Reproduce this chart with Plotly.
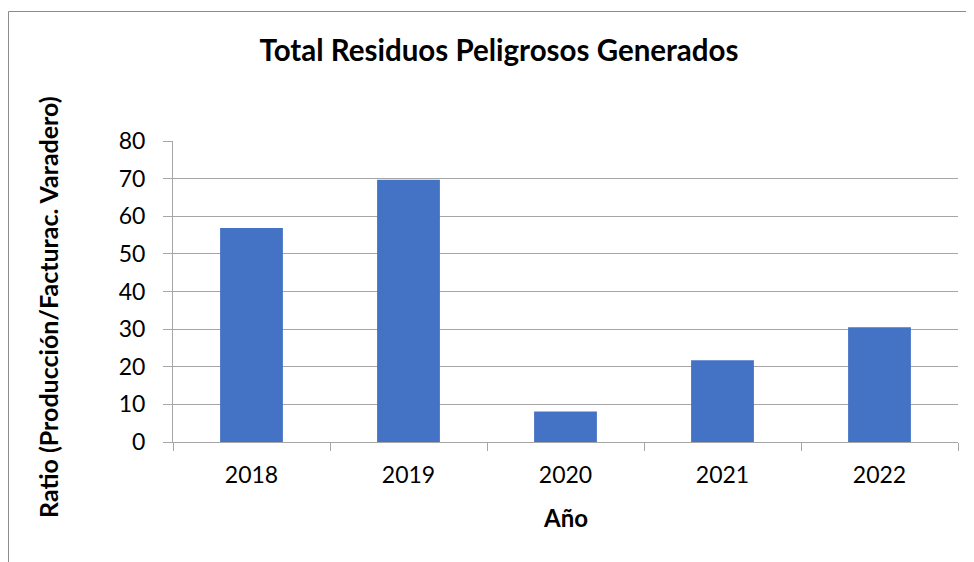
import plotly.graph_objects as go

years = ["2018", "2019", "2020", "2021", "2022"]
values = [56.9, 69.7, 8.1, 21.7, 30.5]
y_ticks = [0, 10, 20, 30, 40, 50, 60, 70, 80]

title_text = "Total Residuos Peligrosos Generados"
x_title = "Año"
y_title = "Ratio (Producción/Facturac. Varadero)"

# page body adds an 8px margin; figure coordinates below account for it
OFF = 8
W, H = 974 - OFF, 562 - OFF
L, R, T, B = 173 - OFF, 16, 141 - OFF, 120
pw = W - L - R
ph = H - T - B
FONT = "Lato, Carlito, Calibri, sans-serif"
GRAY = "#a6a6a6"

fig = go.Figure(go.Bar(x=years, y=values, marker=dict(color="#4472C4", line=dict(width=0))))

fig.update_layout(
    width=W, height=H,
    margin=dict(l=L, r=R, t=T, b=B),
    paper_bgcolor="white", plot_bgcolor="white",
    bargap=0.6,
    showlegend=False,
    font=dict(family=FONT, color="#000000", size=23),
    title=dict(text="<b>" + title_text + "</b>", x=(499 - OFF) / W, xref="container", xanchor="center",
               y=1 - (51 - OFF) / H, yref="container", yanchor="middle",
               font=dict(size=29.5, family=FONT, color="#000000")),
    xaxis=dict(type="category", showline=True, linecolor=GRAY, linewidth=1,
               ticks="outside", tickson="boundaries", ticklen=8, tickcolor=GRAY,
               ticklabelstandoff=12,
               showgrid=False, tickfont=dict(size=23, family=FONT, color="#000000")),
    yaxis=dict(range=[0, 80], tickvals=y_ticks, showline=True, linecolor=GRAY, linewidth=1,
               ticks="outside", ticklen=9, tickcolor=GRAY, ticklabelstandoff=13,
               showgrid=True, gridcolor=GRAY, gridwidth=1, zeroline=False,
               tickfont=dict(size=23, family=FONT, color="#000000")),
    annotations=[
        dict(text="<b>" + x_title + "</b>", xref="paper", yref="paper",
             x=0.5, y=-(518 - OFF - (T + ph)) / ph, xanchor="center", yanchor="middle",
             showarrow=False, font=dict(size=24, family=FONT, color="#000000")),
        dict(text="<b>" + y_title + "</b>", xref="paper", yref="paper",
             x=(48 - OFF - L) / pw, y=(T + ph - (307 - OFF)) / ph, xanchor="center", yanchor="middle",
             textangle=-90, showarrow=False, font=dict(size=25, family=FONT, color="#000000")),
    ],
    shapes=[
        dict(type="rect", xref="paper", yref="paper",
             x0=(0.5 - L) / pw, x1=(W + 20 - L) / pw,
             y0=-(H + 20 - T - ph) / ph, y1=(T + ph - 3.5) / ph,
             line=dict(color="#8c8c8c", width=1), fillcolor="rgba(0,0,0,0)", layer="below"),
    ],
)

fig.write_html("out.html")
